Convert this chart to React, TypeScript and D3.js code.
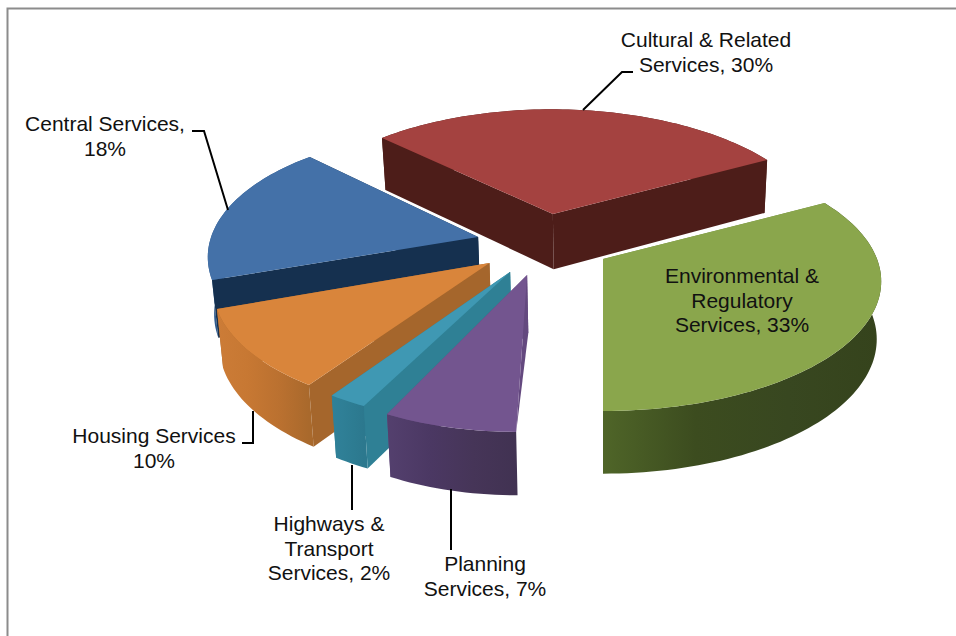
import React from "react";
import * as d3 from "d3";

// Budget share by service area, in clockwise order around the pie
const services = [
  "Environmental & Regulatory Services",
  "Planning Services",
  "Highways & Transport Services",
  "Housing Services",
  "Central Services",
  "Cultural & Related Services",
];
const shares = [33, 7, 2, 10, 18, 30];

const topColors = ["#8aa64c", "#73558f", "#3f98b3", "#d9853b", "#4471a8", "#a44240"];
const radialWallColors = ["#6f8a3c", "#64497f", "#2f8095", "#a5662c", "#15304f", "#4d1d19"];
const rimStops = [
  ["#4f6528", "#3c4c1f", "#384720", "#35431c"],
  ["#54406e", "#4b3863", "#463558", "#413252"],
  ["#2f8199", "#2f7f96", "#2d7c92", "#2c788e"],
  ["#cc7c37", "#c77833", "#bb7130", "#a9692c"],
  ["#2f5b8e", "#2f5b8e", "#2b5484", "#284f7c"],
  ["#4d1d19", "#4d1d19", "#4d1d19", "#4d1d19"],
];

// Ground-plane displacement of each exploded slice, and its local shape
const explodeX = [0, -0.271, -0.333, -0.412, -0.47, -0.195];
const explodeY = [0, -0.125, -0.1, -0.032, 0.18, 0.382];
const radiusX = [1, 0.921, 0.965, 0.987, 1.009, 1.031];
const radiusY = [1, 0.986, 0.965, 0.99, 1.062, 1.118];
const skewX = [0, -0.015, -0.02, -0.031, -0.058, -0.031];
const skewY = [0, 0, 0, -0.026, -0.052, -0.01];
const paintOrder = [5, 4, 0, 3, 2, 1];
// A wall seen almost edge-on shows only as a sliver along the top face
const edgeOnStartWall = [false, true, false, false, false, false];

// Camera used to flatten the ground plane onto the page
const originX = 603;
const originY = 259;
const scaleX = 274;
const scaleY = 125.7;
const cameraDistance = 5.78;
const wallHeight = 57;
const wallTaper = 0.016;

const labels = [
  { lines: ["Environmental &", "Regulatory", "Services, 33%"], x: 742, y: 283 },
  { lines: ["Planning", "Services, 7%"], x: 485, y: 571 },
  { lines: ["Highways &", "Transport", "Services, 2%"], x: 329, y: 531 },
  { lines: ["Housing Services", "10%"], x: 154, y: 443 },
  { lines: ["Central Services,", "18%"], x: 105, y: 131 },
  { lines: ["Cultural & Related", "Services, 30%"], x: 706, y: 47 },
];
const leaders: [number, number][][] = [
  [[451, 489], [451, 550]],
  [[352, 465], [352, 510]],
  [[253, 411], [253, 443], [242, 443]],
  [[228, 210], [204, 131], [192, 131]],
  [[583, 110], [622, 72], [633, 72]],
];

type Pt = [number, number];

const scaleAt = (gy: number) => cameraDistance / (cameraDistance + gy);
const topPoint = (gx: number, gy: number): Pt => {
  const s = scaleAt(gy);
  return [originX + scaleX * gx * s, originY - scaleY * gy * s];
};
const bottomPoint = (gx: number, gy: number): Pt => {
  const [x, y] = topPoint(gx, gy);
  return [
    originX + (x - originX) * (1 - wallTaper),
    y + wallHeight * Math.sqrt(scaleAt(gy)),
  ];
};

const pieLayout = d3
  .pie<number>()
  .sort(null)
  .startAngle((61.2 * Math.PI) / 180)
  .endAngle((421.2 * Math.PI) / 180);

const closed = d3.line<Pt>().curve(d3.curveLinearClosed);
const open = d3.line<Pt>();

export default function App() {
  const arcs = pieLayout(shares);

  const slices = arcs.map((a, i) => {
    const ground = (t: number): Pt => [
      explodeX[i] + radiusX[i] * Math.sin(t) + skewX[i] * Math.cos(t),
      explodeY[i] + radiusY[i] * Math.cos(t) + skewY[i] * Math.sin(t),
    ];
    const steps = Math.max(6, Math.round((a.endAngle - a.startAngle) * 40));
    const rim = d3.range(steps + 1).map((k) => {
      const t = a.startAngle + ((a.endAngle - a.startAngle) * k) / steps;
      return ground(t);
    });
    const rimTop = rim.map((p) => topPoint(p[0], p[1]));
    const rimBottom = rim.map((p) => bottomPoint(p[0], p[1]));
    const tipTop = topPoint(explodeX[i], explodeY[i]);
    const tipBottom = bottomPoint(explodeX[i], explodeY[i]);
    const last = rim.length - 1;
    const xs = rimTop.map((p) => p[0]);
    return {
      i,
      top: closed([tipTop, ...rimTop]) as string,
      rim: closed([...rimTop, ...[...rimBottom].reverse()]) as string,
      wallStart: closed(
        edgeOnStartWall[i]
          ? [tipTop, rimTop[0], tipBottom]
          : [tipTop, rimTop[0], rimBottom[0], tipBottom]
      ) as string,
      wallEnd: closed([tipTop, rimTop[last], rimBottom[last], tipBottom]) as string,
      x0: d3.min(xs) as number,
      x1: d3.max(xs) as number,
    };
  });

  return (
    <svg
      width={956}
      height={636}
      style={{ position: "absolute", left: 0, top: 0, background: "#fff" }}
    >
      <defs>
        {slices.map((s) => (
          <linearGradient
            key={s.i}
            id={`rim-${s.i}`}
            gradientUnits="userSpaceOnUse"
            x1={s.x0}
            x2={s.x1}
            y1={0}
            y2={0}
          >
            {rimStops[s.i].map((c, k) => (
              <stop key={k} offset={k / (rimStops[s.i].length - 1)} stopColor={c} />
            ))}
          </linearGradient>
        ))}
      </defs>

      {/* chart frame: only the top and left edges fall inside the page */}
      <path d="M7.5 636V8.5H956" fill="none" stroke="#8c8c8c" strokeWidth={2} />

      {paintOrder.map((idx) => {
        const s = slices[idx];
        return (
          <g key={idx} aria-label={services[idx]}>
            <path d={s.wallEnd} fill={radialWallColors[idx]} />
            <path d={s.rim} fill={`url(#rim-${idx})`} />
            <path d={s.wallStart} fill={radialWallColors[idx]} />
            <path d={s.top} fill={topColors[idx]} />
          </g>
        );
      })}

      {leaders.map((pts, i) => (
        <path key={i} d={open(pts) as string} fill="none" stroke="#000" strokeWidth={2} />
      ))}

      <g fontFamily="'Liberation Sans', Arial, sans-serif" fontSize={21} fill="#111" textAnchor="middle">
        {labels.map((l, i) => (
          <text key={i} x={l.x} y={l.y}>
            {l.lines.map((line, k) => (
              <tspan key={k} x={l.x} dy={k === 0 ? 0 : 24.5}>
                {line}
              </tspan>
            ))}
          </text>
        ))}
      </g>
    </svg>
  );
}
